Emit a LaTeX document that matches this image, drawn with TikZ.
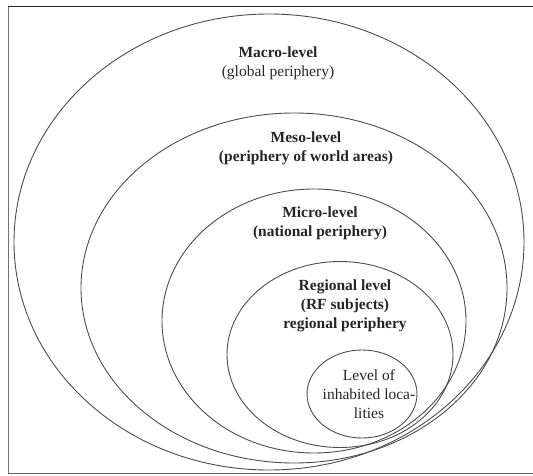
\documentclass[tikz,border=0pt]{standalone}
\usepackage{fontspec}
\setmainfont{Liberation Serif}
\begin{document}
\begin{tikzpicture}[x=1pt,y=-1pt,
  ring/.style={draw=black!70, line width=0.9pt},
  lbl/.style={align=center, font=\fontsize{15.5}{19}\selectfont, inner sep=0pt, text=black!85},
  frameline/.style={line width=1pt}]
\useasboundingbox (0,0) rectangle (533,476);
% frame
\draw[frameline, draw=black!55] (8,7) -- (8,473);
\draw[frameline, draw=black!85] (8,7) -- (533,7);
\draw[frameline, draw=black!60] (8,473) -- (533,473);
% levels
\draw[ring] (269,242) ellipse (255 and 228);
\draw[ring] (294,288) ellipse (213 and 175);
\draw[ring] (314,321) ellipse (152 and 132);
\draw[ring] (340,354.5) ellipse (113 and 93);
\draw[ring] (362,394) ellipse (55 and 44);
% labels
\node[lbl] (macro) at (278,63.5) {\textbf{Macro-level}\\(global periphery)};
\node[lbl, font=\bfseries\fontsize{15.5}{19}\selectfont] (meso) at (306,148.5) {Meso-level\\(periphery of world areas)};
\node[lbl, font=\bfseries\fontsize{15.5}{19}\selectfont] (micro) at (320,223) {Micro-level\\(national periphery)};
\node[lbl, font=\bfseries\fontsize{15.5}{19}\selectfont] (regional) at (345,306) {Regional level\\(RF subjects)\\regional periphery};
\node[lbl] (local) at (369,394) {Level of\\inhabited loca-\\lities};
\end{tikzpicture}
\end{document}
